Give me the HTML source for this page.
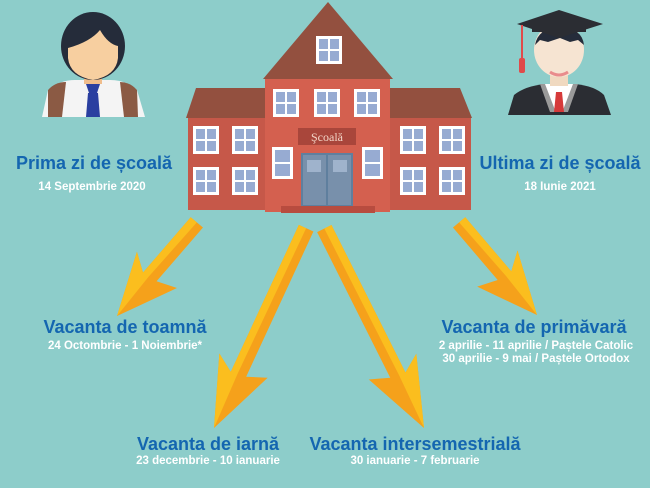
<!DOCTYPE html>
<html><head><meta charset="utf-8"><style>
html,body{margin:0;padding:0;}
body{width:650px;height:488px;background:#8dcdca;overflow:hidden;position:relative;font-family:"Liberation Sans",sans-serif;}
.t{position:absolute;text-align:center;font-weight:bold;color:#1466b0;font-size:18px;white-space:nowrap;transform:translateX(-50%);}
.d{position:absolute;text-align:center;font-weight:bold;color:#fff;font-size:11.5px;white-space:nowrap;transform:translateX(-50%);line-height:13px;}
</style></head><body>
<svg width="650" height="488" style="position:absolute;left:0;top:0">
<defs>
<g id="w"><rect x="0" y="0" width="26" height="28" fill="#fff"/><rect x="3" y="3" width="9" height="10" fill="#97abd2"/><rect x="14" y="3" width="9" height="10" fill="#97abd2"/><rect x="3" y="15" width="9" height="10" fill="#97abd2"/><rect x="14" y="15" width="9" height="10" fill="#97abd2"/></g>
</defs>
<!-- building -->
<polygon points="186,118 196,88 265,88 265,118" fill="#93503f"/>
<polygon points="390,88 460,88 472,118 390,118" fill="#93503f"/>
<rect x="188" y="118" width="78" height="92" fill="#c65849"/>
<rect x="390" y="118" width="81" height="92" fill="#c65849"/>
<rect x="265" y="78" width="125" height="134" fill="#d4604f"/>
<polygon points="263,79 328,2 393,79" fill="#93503f"/>
<use href="#w" x="316" y="36"/>
<use href="#w" x="273" y="89"/><use href="#w" x="314" y="89"/><use href="#w" x="354" y="89"/>
<use href="#w" x="193" y="126"/><use href="#w" x="232" y="126"/><use href="#w" x="193" y="167"/><use href="#w" x="232" y="167"/>
<use href="#w" x="400" y="126"/><use href="#w" x="439" y="126"/><use href="#w" x="400" y="167"/><use href="#w" x="439" y="167"/>
<rect x="272" y="147" width="21" height="32" fill="#fff"/><rect x="275" y="150" width="15" height="12" fill="#97abd2"/><rect x="275" y="164" width="15" height="12" fill="#97abd2"/>
<rect x="362" y="147" width="21" height="32" fill="#fff"/><rect x="365" y="150" width="15" height="12" fill="#97abd2"/><rect x="365" y="164" width="15" height="12" fill="#97abd2"/>
<rect x="298" y="128" width="58" height="17" fill="#a9463b"/>
<text x="327" y="141" font-family="Liberation Serif,serif" font-size="12" fill="#f3d6c8" text-anchor="middle">Şcoală</text>
<rect x="301" y="153" width="52" height="53" fill="#5f7f9e"/><rect x="303" y="155" width="23" height="50" fill="#7890ab"/><rect x="328" y="155" width="23" height="50" fill="#7890ab"/>
<rect x="307" y="160" width="14" height="12" fill="#9fb3cc"/><rect x="333" y="160" width="14" height="12" fill="#9fb3cc"/>
<rect x="281" y="206" width="94" height="7" fill="#b84c3f"/>
<!-- student -->
<path d="M42 117 L48 90 Q60 80 75 80 L110 80 Q126 80 137 90 L145 117 Z" fill="#f4f4f4"/>
<path d="M48 90 Q55 82 66 82 L62 117 L48 117 Z" fill="#8b5a44"/>
<path d="M137 90 Q130 82 120 82 L124 117 L138 117 Z" fill="#8b5a44"/>
<rect x="84" y="70" width="18" height="14" fill="#f0bd8c"/>
<polygon points="88,93 98,93 100,117 86,117" fill="#2a3fa0"/>
<polygon points="86,84 100,84 96,96 90,96" fill="#2a3fa0"/>
<ellipse cx="93" cy="46" rx="32" ry="34" fill="#252c3a"/>
<path d="M68 48 Q90 42 100 30 Q108 44 118 46 L118 58 Q116 76 93 80 Q70 76 68 58 Z" fill="#f7cfa0"/>
<!-- graduate -->
<path d="M508 115 L514 95 Q525 86 545 84 L575 84 Q595 86 604 95 L611 115 Z" fill="#2b2d33"/>
<polygon points="540,84 578,84 568,112 550,112" fill="#9a9a9a"/>
<polygon points="545,84 573,84 563,110 555,110" fill="#fff"/>
<polygon points="556,92 562,92 564,112 554,112" fill="#d63a3a"/>
<rect x="550" y="70" width="18" height="16" fill="#f0d9c0"/>
<ellipse cx="559" cy="50" rx="25" ry="27" fill="#f6e4d2"/>
<path d="M535 45 Q538 28 560 27 Q582 28 584 45 L578 40 L570 42 L560 38 L548 42 L540 40 Z" fill="#252c3a"/>
<path d="M550 72 Q559 78 568 72" stroke="#e98c8c" stroke-width="3" fill="none"/>
<polygon points="517,24 559,10 603,24 559,38" fill="#2b2d33"/>
<rect x="532" y="22" width="54" height="10" fill="#2b2d33"/>
<line x1="522" y1="25" x2="522" y2="62" stroke="#e04a4a" stroke-width="2"/>
<rect x="519" y="58" width="6" height="15" rx="2" fill="#e04a4a"/>
<!-- arrows -->
<g transform="translate(117,316) rotate(40)"><polygon points="-7,-123 9,-123 8,-52 28,-60 0,0 -26,-62 -8,-50" fill="#f5a11b"/><polygon points="-7,-123 1,-123 -1,-50 0,0 -26,-62 -8,-50" fill="#fbbe1e"/></g>
<g transform="translate(214,428) rotate(24.5)"><polygon points="-7,-220 9,-220 8,-60 28,-68 0,0 -26,-70 -8,-58" fill="#f5a11b"/><polygon points="-7,-220 1,-220 -1,-58 0,0 -26,-70 -8,-58" fill="#fbbe1e"/></g>
<g transform="translate(424,428) rotate(-26.3)"><polygon points="-9,-223 7,-223 8,-58 26,-70 0,0 -28,-68 -8,-60" fill="#f5a11b"/><polygon points="-1,-223 7,-223 8,-58 26,-70 0,0 1,-58" fill="#fbbe1e"/></g>
<g transform="translate(537,315) rotate(-39.6)"><polygon points="-9,-121 7,-121 8,-50 26,-62 0,0 -28,-60 -8,-52" fill="#f5a11b"/><polygon points="-1,-121 7,-121 8,-50 26,-62 0,0 1,-50" fill="#fbbe1e"/></g>
</svg>
<div class="t" style="left:94px;top:153px">Prima zi de școală</div>
<div class="d" style="left:92px;top:181px">14 Septembrie 2020</div>
<div class="t" style="left:560px;top:153px">Ultima zi de școală</div>
<div class="d" style="left:560px;top:181px">18 Iunie 2021</div>
<div class="t" style="left:125px;top:317px">Vacanta de toamnă</div>
<div class="d" style="left:125px;top:340px">24 Octombrie - 1 Noiembrie*</div>
<div class="t" style="left:534px;top:317px">Vacanta de primăvară</div>
<div class="d" style="left:536px;top:340px">2 aprilie - 11 aprilie / Paștele Catolic<br>30 aprilie - 9 mai / Paștele Ortodox</div>
<div class="t" style="left:208px;top:434px">Vacanta de iarnă</div>
<div class="d" style="left:208px;top:455px">23 decembrie - 10 ianuarie</div>
<div class="t" style="left:415px;top:434px">Vacanta intersemestrială</div>
<div class="d" style="left:415px;top:455px">30 ianuarie - 7 februarie</div>
</body></html>
